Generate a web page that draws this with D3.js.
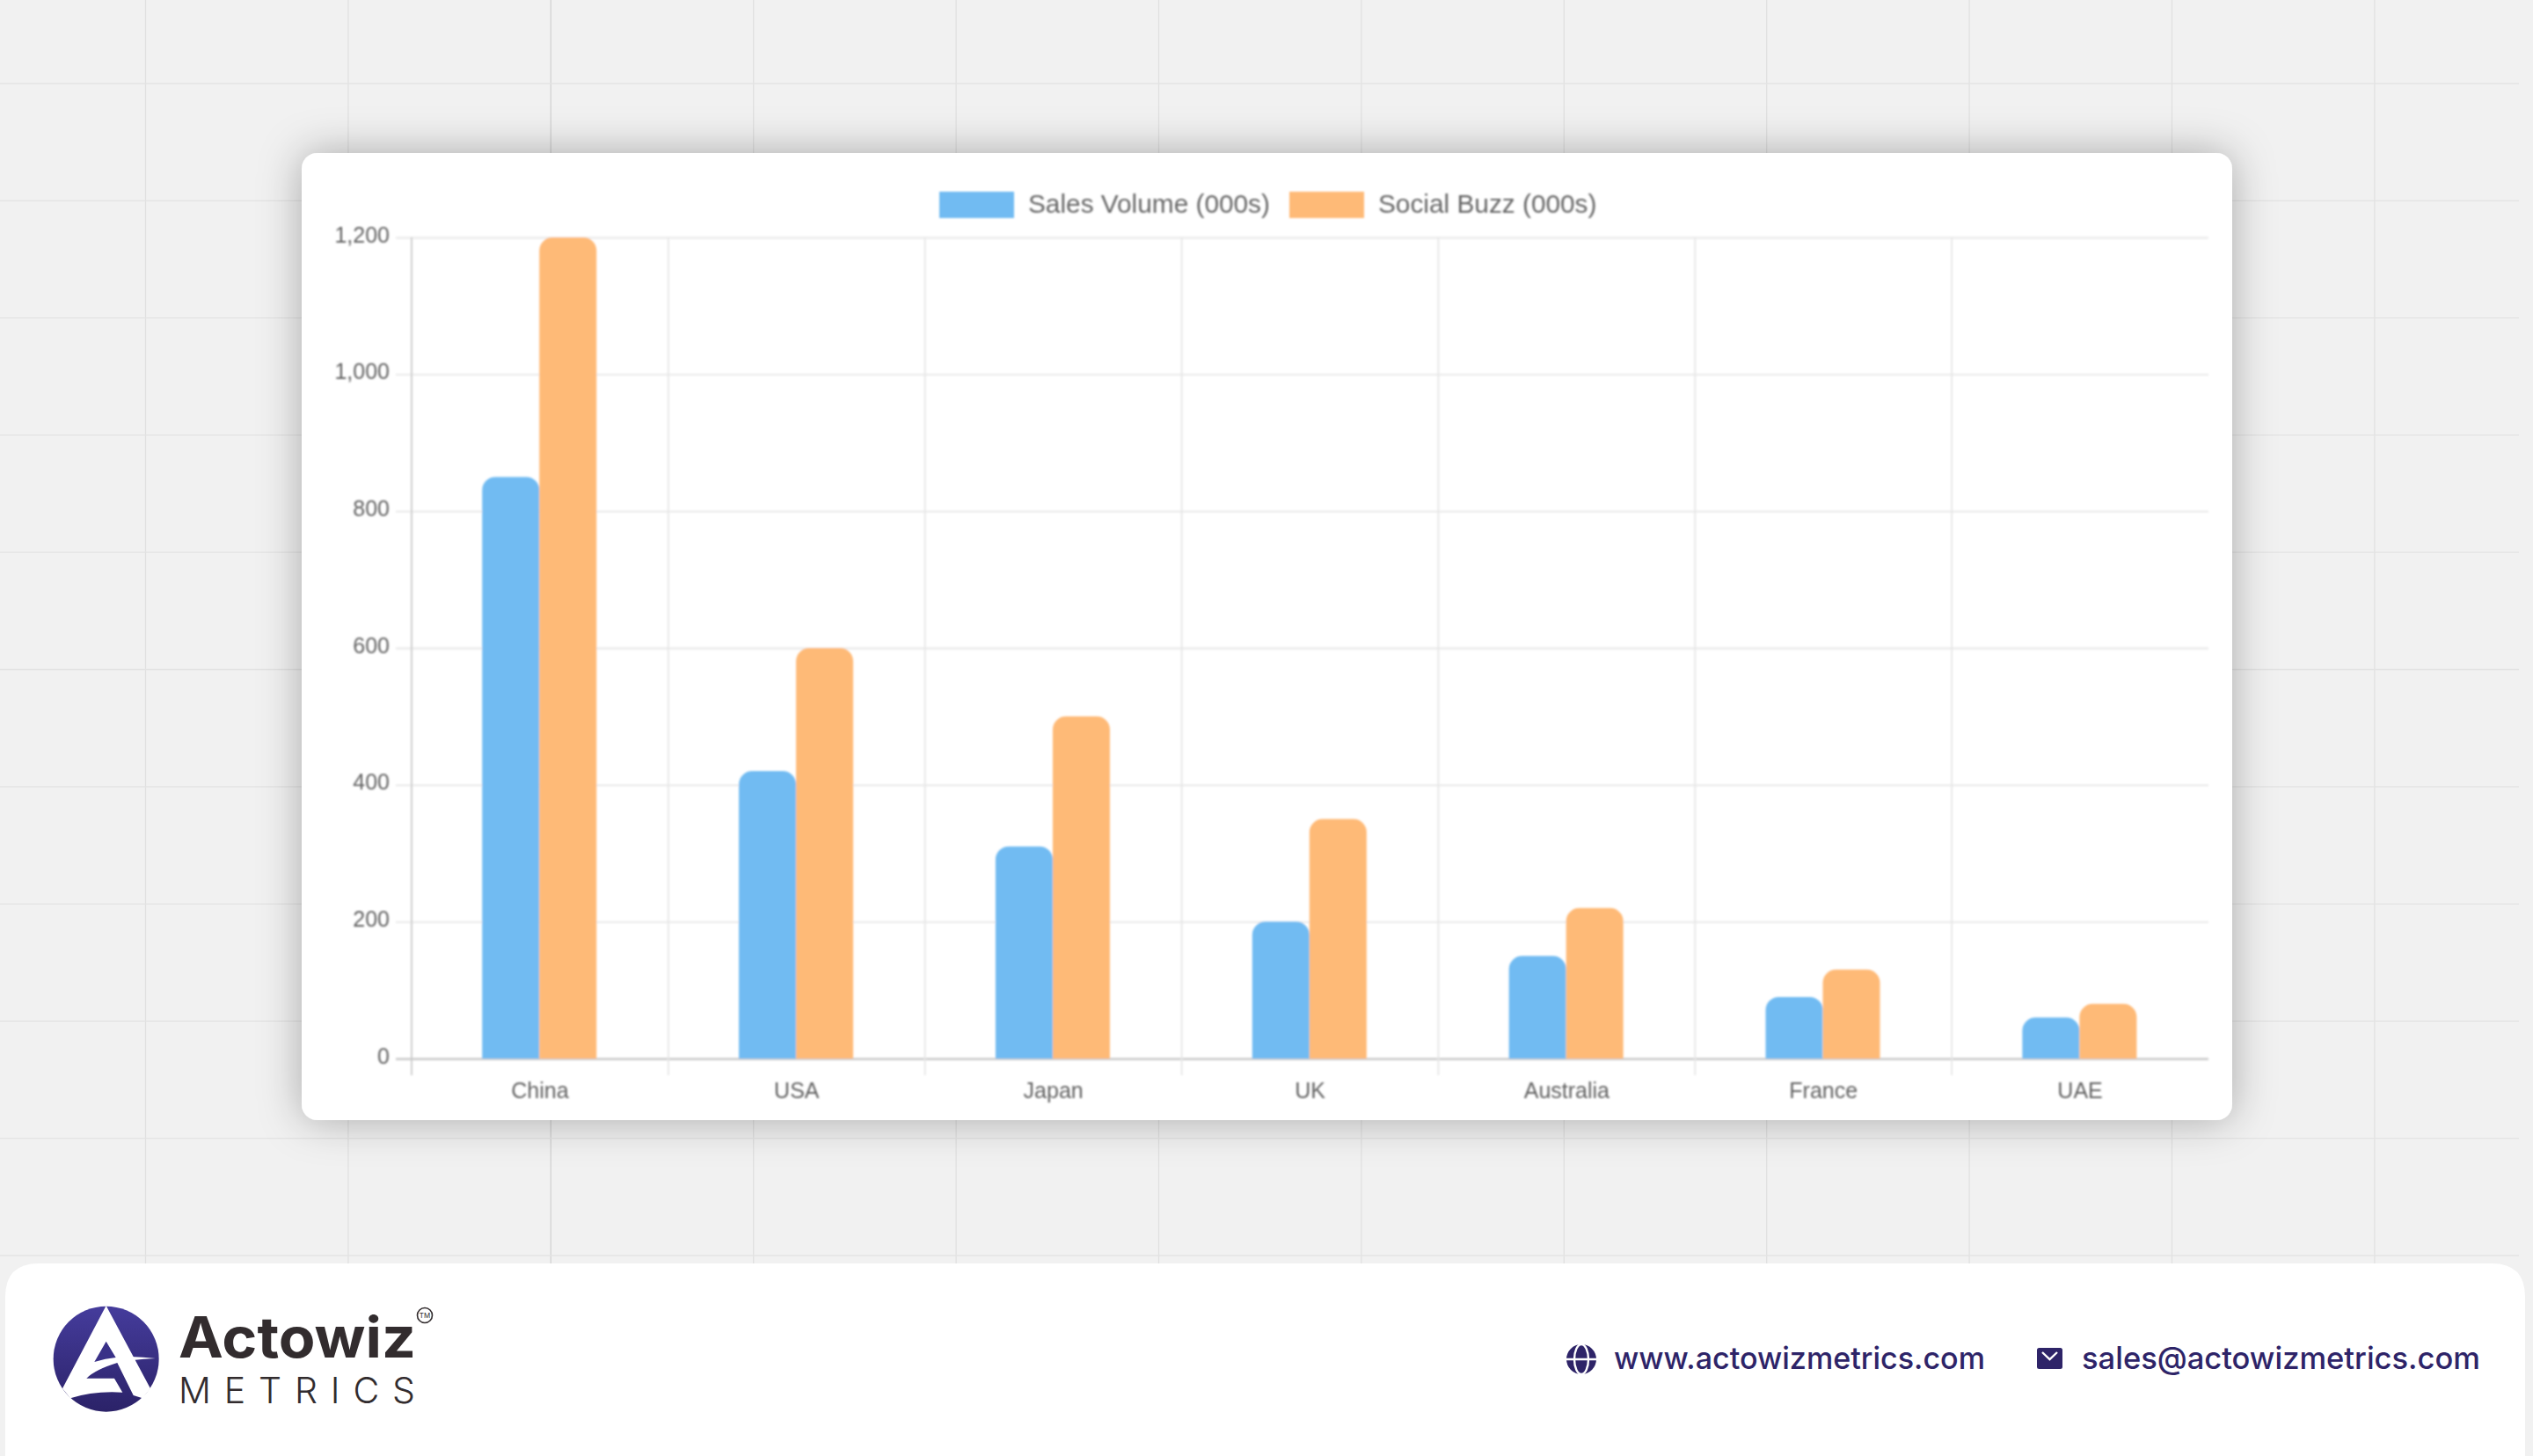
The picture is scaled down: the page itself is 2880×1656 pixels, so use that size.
<!DOCTYPE html>
<html><head><meta charset="utf-8">
<script src="https://cdn.jsdelivr.net/npm/d3@7/dist/d3.min.js"></script>
<style>html,body{margin:0;padding:0;background:#f1f1f1;overflow:hidden}svg{display:block}</style>
</head><body><svg id="c" width="2880" height="1656"></svg>
<script>
const categories=["China","USA","Japan","UK","Australia","France","UAE"];
const seriesNames=["Sales Volume (000s)","Social Buzz (000s)"];
const salesVolume=[850,420,310,200,150,90,60];
const socialBuzz=[1200,600,500,350,220,130,80];
const yTicks=[0,200,400,600,800,1000,1200];
const seriesColors=["#71bbf2","#feba77"];

const svg=d3.select("#c");
const defs=svg.append("defs");
const sh=defs.append("filter").attr("id","sh").attr("x","-10%").attr("y","-15%").attr("width","120%").attr("height","130%");
sh.append("feDropShadow").attr("dx",0).attr("dy",0).attr("stdDeviation",24).attr("flood-color","#000").attr("flood-opacity",0.3);
const soft=defs.append("filter").attr("id","soft").attr("x","-2%").attr("y","-2%").attr("width","104%").attr("height","104%");
soft.append("feGaussianBlur").attr("stdDeviation",0.85);
const lg=defs.append("linearGradient").attr("id","lg").attr("x1",0).attr("y1",0).attr("x2",0).attr("y2",1);
lg.append("stop").attr("offset",0).attr("stop-color","#453c9c");
lg.append("stop").attr("offset",1).attr("stop-color","#2b2268");

// page background grid
const bg=svg.append("g").attr("class","bg");
bg.append("rect").attr("width",2880).attr("height",1656).attr("fill","#f1f1f1");
const vx=d3.range(0,12).map(i=>165.5+230.4*i), hy=d3.range(0,11).map(i=>95+133.3*i);
bg.selectAll("line.v").data(vx).join("line").attr("class","v").attr("x1",d=>d).attr("x2",d=>d).attr("y1",0).attr("y2",1437)
  .attr("stroke",(d,i)=>i==2?"#d2d2d2":"#e0e0e0").attr("stroke-width",1.3);
bg.selectAll("line.h").data(hy).join("line").attr("class","h").attr("y1",d=>d).attr("y2",d=>d).attr("x1",0).attr("x2",2864)
  .attr("stroke","#e3e3e3").attr("stroke-width",1.3);

// card
svg.append("rect").attr("x",343).attr("y",174).attr("width",2195).attr("height",1100).attr("rx",18).attr("fill","#fff").attr("filter","url(#sh)");

// chart
const plotLeft=468,plotRight=2511,plotTop=270,plotBottom=1204;
const x=d3.scaleBand().domain(categories).range([plotLeft,plotRight]);
const y=d3.scaleLinear().domain([0,1200]).range([plotBottom,plotTop]);
const inner=d3.scaleBand().domain(seriesNames).range([-65.7,64.3]);
const chart=svg.append("g").attr("filter","url(#soft)");

const yGrid=chart.append("g").attr("transform",`translate(${plotLeft},0)`)
  .call(d3.axisLeft(y).tickValues(yTicks).tickSize(18).tickFormat(d3.format(",")).tickPadding(7));
yGrid.select(".domain").remove();
yGrid.selectAll(".tick line").attr("x2",plotRight-plotLeft).attr("x1",-18).attr("stroke",d=>d==0?"#c8c8c8":"#ebebeb").attr("stroke-width",2.4);
yGrid.selectAll(".tick text").attr("font-family","'Liberation Sans',Arial,sans-serif").attr("font-size",25).attr("fill","#626262").attr("dy","0.2em");

const xAxis=chart.append("g").attr("transform",`translate(0,${plotBottom})`)
  .call(d3.axisBottom(x).tickSize(0).tickPadding(27));
xAxis.select(".domain").remove();
xAxis.selectAll(".tick text").attr("font-family","'Liberation Sans',Arial,sans-serif").attr("font-size",25).attr("fill","#626262");
chart.selectAll("line.xg").data(categories).join("line").attr("class","xg")
  .attr("x1",d=>x(d)).attr("x2",d=>x(d)).attr("y1",plotTop).attr("y2",1223)
  .attr("stroke",(d,i)=>i==0?"#cacaca":"#e6e6e6").attr("stroke-width",1.8);

const r=15;
function barPath(x0,w,y0,y1){const k=Math.min(r,(y1-y0));
  return `M${x0},${y1}V${y0+k}A${k},${k} 0 0 1 ${x0+k},${y0}H${x0+w-k}A${k},${k} 0 0 1 ${x0+w},${y0+k}V${y1}Z`;}
[salesVolume,socialBuzz].forEach((vals,si)=>{
  chart.append("g").selectAll("path").data(vals).join("path")
    .attr("fill",seriesColors[si])
    .attr("d",(v,i)=>barPath(x(categories[i])+x.bandwidth()/2+inner(seriesNames[si]),inner.bandwidth(),y(v),y(0)));
});

// legend
const legend=[{x:1068,tx:1169},{x:1466,tx:1567}];
const leg=chart.append("g");
seriesNames.forEach((n,i)=>{
  leg.append("rect").attr("x",legend[i].x).attr("y",218).attr("width",85).attr("height",30).attr("fill",seriesColors[i]);
  leg.append("text").attr("x",legend[i].tx).attr("y",242).attr("font-family","'Liberation Sans',Arial,sans-serif").attr("font-size",29.8).attr("fill","#666").text(n);
});

// footer panel
svg.append("path").attr("fill","#fff").attr("d","M6,1656V1475Q6,1437 44,1437H2833Q2871,1437 2871,1475V1656Z");

// logo
const logo=svg.append("g").attr("transform","translate(50,1475) scale(0.3333)");
logo.append("circle").attr("cx",212).attr("cy",212).attr("r",180).attr("fill","url(#lg)");
logo.append("path").attr("fill","#fff").attr("d","M212,30L63,313L90,346Q170,320 268,326L240,278L145,278Q175,248 250,225L305,336L336,346L363,313Z");
logo.append("path").attr("fill","#3a3188").attr("d","M212,152L172,222Q210,210 245,207Z");
logo.append("path").attr("fill","#fff").attr("d","M296,204Q340,205 380,210Q340,212 304,216Z");
const ft="Inter,'Noto Sans',sans-serif";
svg.append("text").attr("x",203).attr("y",1544).attr("font-family",ft).attr("font-weight",700).attr("font-size",64).attr("fill","#322c2e").attr("textLength",270).attr("lengthAdjust","spacingAndGlyphs").text("Actowiz");
svg.append("text").attr("x",203).attr("y",1596).attr("font-family",ft).attr("font-weight",300).attr("font-size",41).attr("fill","#322c2e").attr("textLength",269).attr("lengthAdjust","spacing").text("METRICS");
svg.append("circle").attr("cx",483).attr("cy",1496).attr("r",8.5).attr("fill","none").attr("stroke","#322c2e").attr("stroke-width",1.6);
svg.append("text").attr("x",483).attr("y",1499).attr("text-anchor","middle").attr("font-family",ft).attr("font-size",8).attr("fill","#322c2e").text("TM");

// contact
const navy="#2e2468";
svg.append("text").attr("x",1835).attr("y",1557).attr("font-family",ft).attr("font-weight",500).attr("font-size",35).attr("fill",navy).attr("textLength",422).attr("lengthAdjust","spacingAndGlyphs").text("www.actowizmetrics.com");
svg.append("text").attr("x",2367).attr("y",1557).attr("font-family",ft).attr("font-weight",500).attr("font-size",35).attr("fill",navy).attr("textLength",453).attr("lengthAdjust","spacingAndGlyphs").text("sales@actowizmetrics.com");
const gl=svg.append("g").attr("transform","translate(1798,1546)");
gl.append("ellipse").attr("rx",17).attr("ry",17).attr("fill",navy);
gl.append("ellipse").attr("rx",8).attr("ry",17).attr("fill","none").attr("stroke","#fff").attr("stroke-width",2.4);
gl.append("line").attr("x1",-17).attr("x2",17).attr("stroke","#fff").attr("stroke-width",2.4);
const ml=svg.append("g");
ml.append("rect").attr("x",2316).attr("y",1533).attr("width",29).attr("height",24).attr("rx",2.5).attr("fill",navy);
ml.append("path").attr("d","M2322,1538L2330.5,1546L2339,1538").attr("fill","none").attr("stroke","#fff").attr("stroke-width",2.4);
</script></body></html>
